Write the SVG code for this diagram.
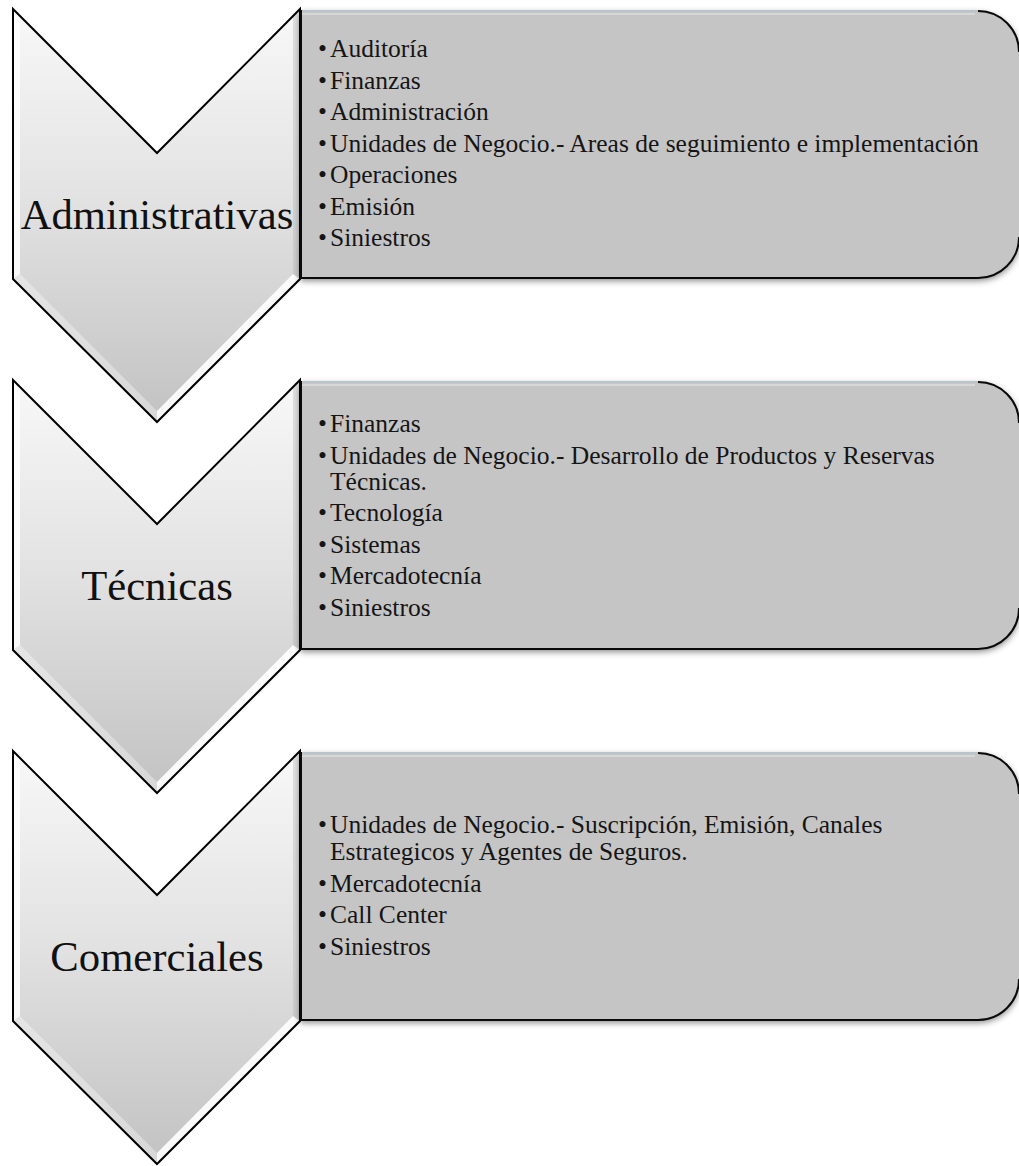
<svg xmlns="http://www.w3.org/2000/svg" xmlns:xlink="http://www.w3.org/1999/xlink" width="1019" height="1166" viewBox="0 0 1019 1166">
  <style>
    .label { font-family: "Liberation Serif", "Times New Roman", serif; font-size: 42.7px; fill: #111; text-anchor: middle; }
    .item { font-family: "Liberation Serif", "Times New Roman", serif; font-size: 25.5px; fill: #151515; }
    .chev-body { fill: url(#chevFill); }
    .chev-line { fill: none; stroke: #000; stroke-width: 2; stroke-linejoin: miter; }
    .box-body { fill: #c5c5c5; filter: url(#boxShadow); }
    .box-dark { fill: none; stroke: #0a0a0a; stroke-width: 2; }
    .box-top { fill: none; stroke: #b9c5ca; stroke-width: 2; }
    .box-hi { fill: none; stroke: #e6eaec; stroke-width: 1.2; }
  </style>
  <defs>
    <linearGradient id="chevFill" x1="0" y1="0" x2="0" y2="1">
      <stop offset="0" stop-color="#f8f8f8"/>
      <stop offset="0.45" stop-color="#e3e3e3"/>
      <stop offset="1" stop-color="#c2c2c2"/>
    </linearGradient>
    <filter id="boxShadow" x="-5%" y="-10%" width="110%" height="125%">
      <feDropShadow dx="0" dy="3" stdDeviation="3" flood-color="#000" flood-opacity="0.45"/>
    </filter>

    <!-- chevron pointing down, top edge at y=0 -->
    <g id="chevron">
      <polygon class="chev-body" points="13,0 157,144 300,0 300,270 157,413 13,270"/>
      <!-- bevel bands -->
      <polygon points="13,1 20,8 20,265 13,270" fill="#ffffff" opacity="0.85"/>
      <polygon points="13,270 20,265 157,402 157,413" fill="#ffffff" opacity="0.35"/>
      <polygon points="157,413 157,402 293,265 300,270" fill="#ffffff" opacity="0.9"/>
      <polygon points="300,1 293,8 293,265 300,270" fill="#b5b5b5" opacity="0.35"/>
      <polygon class="chev-line" points="13,0 157,144 300,0 300,270 157,413 13,270"/>
    </g>

    <!-- list panel, top edge at y=0 -->
    <g id="panel">
      <path class="box-body" d="M300,0 H978 A42,42 0 0 1 1020,42 V226 A42,42 0 0 1 978,268 H300 Z"/>
      <path class="box-top" d="M301,1 H978"/>
      <path class="box-hi" d="M302,4 H975"/>
      <path class="box-dark" d="M978,1 A41,41 0 0 1 1019,42"/>
      <path class="box-dark" d="M301,0 V268 H978 A41,41 0 0 0 1019,227"/>
    </g>
  </defs>

  <!-- Administrativas -->
  <g id="node-administrativas">
    <use xlink:href="#chevron" href="#chevron" x="0" y="9"/>
    <text class="label" x="157" y="229">Administrativas</text>
  </g>
  <g id="list-administrativas">
    <use xlink:href="#panel" href="#panel" x="0" y="10"/>
    <text class="item" y="57"><tspan x="318">•</tspan><tspan x="330">Auditoría</tspan></text>
    <text class="item" y="88.5"><tspan x="318">•</tspan><tspan x="330">Finanzas</tspan></text>
    <text class="item" y="120"><tspan x="318">•</tspan><tspan x="330">Administración</tspan></text>
    <text class="item" y="151.5"><tspan x="318">•</tspan><tspan x="330">Unidades de Negocio.- Areas de seguimiento e implementación</tspan></text>
    <text class="item" y="183"><tspan x="318">•</tspan><tspan x="330">Operaciones</tspan></text>
    <text class="item" y="214.5"><tspan x="318">•</tspan><tspan x="330">Emisión</tspan></text>
    <text class="item" y="246"><tspan x="318">•</tspan><tspan x="330">Siniestros</tspan></text>
  </g>

  <!-- Técnicas -->
  <g id="node-tecnicas">
    <use xlink:href="#chevron" href="#chevron" x="0" y="380"/>
    <text class="label" x="157" y="600">Técnicas</text>
  </g>
  <g id="list-tecnicas">
    <use xlink:href="#panel" href="#panel" x="0" y="381"/>
    <text class="item" y="432"><tspan x="318">•</tspan><tspan x="330">Finanzas</tspan></text>
    <text class="item" y="463.5"><tspan x="318">•</tspan><tspan x="330">Unidades de Negocio.- Desarrollo de Productos y Reservas</tspan></text>
    <text class="item" y="490"><tspan x="330">Técnicas.</tspan></text>
    <text class="item" y="521"><tspan x="318">•</tspan><tspan x="330">Tecnología</tspan></text>
    <text class="item" y="552.5"><tspan x="318">•</tspan><tspan x="330">Sistemas</tspan></text>
    <text class="item" y="584"><tspan x="318">•</tspan><tspan x="330">Mercadotecnía</tspan></text>
    <text class="item" y="615.5"><tspan x="318">•</tspan><tspan x="330">Siniestros</tspan></text>
  </g>

  <!-- Comerciales -->
  <g id="node-comerciales">
    <use xlink:href="#chevron" href="#chevron" x="0" y="751"/>
    <text class="label" x="157" y="971">Comerciales</text>
  </g>
  <g id="list-comerciales">
    <use xlink:href="#panel" href="#panel" x="0" y="752"/>
    <text class="item" y="833"><tspan x="318">•</tspan><tspan x="330">Unidades de Negocio.- Suscripción, Emisión, Canales</tspan></text>
    <text class="item" y="860"><tspan x="330">Estrategicos y Agentes de Seguros.</tspan></text>
    <text class="item" y="891.5"><tspan x="318">•</tspan><tspan x="330">Mercadotecnía</tspan></text>
    <text class="item" y="923"><tspan x="318">•</tspan><tspan x="330">Call Center</tspan></text>
    <text class="item" y="954.5"><tspan x="318">•</tspan><tspan x="330">Siniestros</tspan></text>
  </g>
</svg>
